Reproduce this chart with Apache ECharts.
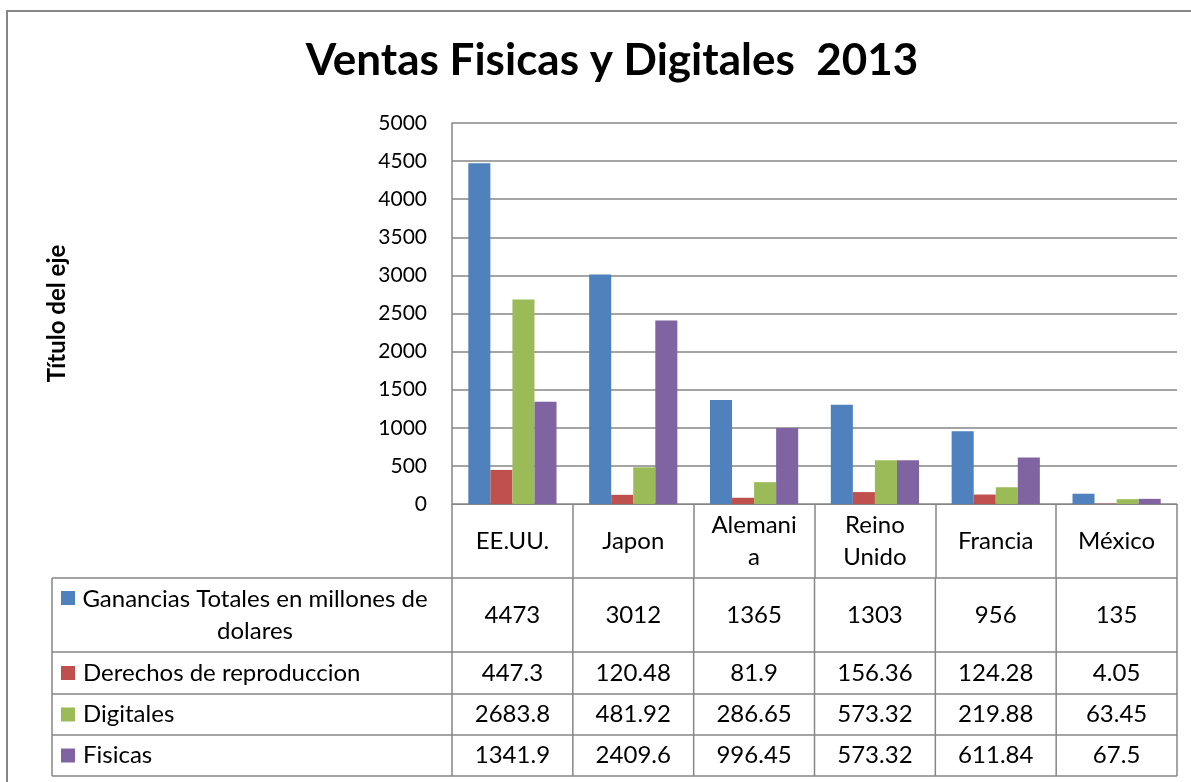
<!DOCTYPE html>
<html>
<head>
<meta charset="utf-8">
<title>Ventas Fisicas y Digitales 2013</title>
<script src="https://cdn.jsdelivr.net/npm/echarts@6/dist/echarts.min.js"></script>
<style>
  html, body { margin: 0; padding: 0; background: #fff; }
  #chart { width: 1191px; height: 782px; }
</style>
</head>
<body>
<div id="chart"></div>
<script>
// data
const categories = ['EE.UU.', 'Japon', 'Alemania', 'Reino Unido', 'Francia', 'México'];
const categoryLabels = ['EE.UU.', 'Japon', 'Alemani\na', 'Reino\nUnido', 'Francia', 'México'];
const seriesLabels = ['Ganancias Totales en millones de\ndolares', 'Derechos de reproduccion', 'Digitales', 'Fisicas'];
const ganancias = [4473, 3012, 1365, 1303, 956, 135];
const derechos = [447.3, 120.48, 81.9, 156.36, 124.28, 4.05];
const digitales = [2683.8, 481.92, 286.65, 573.32, 219.88, 63.45];
const fisicas = [1341.9, 2409.6, 996.45, 573.32, 611.84, 67.5];
const yTicks = [0, 500, 1000, 1500, 2000, 2500, 3000, 3500, 4000, 4500, 5000];

const colors = ['#4F81BD', '#C0504D', '#9BBB59', '#8064A2'];
const seriesData = [ganancias, derechos, digitales, fisicas];
const FONT = 'Lato';
const LINE = '#868686';
const TXT = 24;

const option = {
  animation: false,
  backgroundColor: '#fff',
  textStyle: { fontFamily: FONT, color: '#000' },
  title: {
    text: 'Ventas Fisicas y Digitales  2013',
    left: 607,
    top: 34,
    textAlign: 'center',
    textStyle: { fontFamily: FONT, fontSize: 44, fontWeight: 'bold', color: '#000' }
  },
  grid: { left: 452, right: 14, top: 123, bottom: 278 },
  xAxis: {
    type: 'category',
    data: categories,
    axisLine: { lineStyle: { color: LINE, width: 1 } },
    axisTick: { show: true, length: 74, lineStyle: { color: LINE, width: 1.5 } },
    axisLabel: {
      interval: 0,
      margin: 37,
      verticalAlign: 'middle',
      lineHeight: 32,
      fontSize: TXT,
      color: '#000',
      fontFamily: FONT,
      formatter: (v, i) => categoryLabels[i]
    }
  },
  yAxis: {
    type: 'value',
    min: yTicks[0],
    max: yTicks[yTicks.length - 1],
    interval: yTicks[1] - yTicks[0],
    name: 'Título del eje',
    nameLocation: 'middle',
    nameGap: 383,
    nameTextStyle: { fontFamily: FONT, fontSize: 24, fontWeight: 'bold', color: '#000' },
    axisLine: { show: true, lineStyle: { color: LINE, width: 1.5 } },
    axisTick: { show: false },
    axisLabel: { fontSize: 21, color: '#000', fontFamily: FONT, margin: 25, formatter: v => String(v) },
    splitLine: { lineStyle: { color: LINE, width: 1.5 } }
  },
  series: seriesData.map((d, i) => ({
    type: 'bar',
    name: seriesLabels[i].replace('\n', ' '),
    data: d,
    barGap: '0%',
    barCategoryGap: '27%',
    itemStyle: { color: colors[i] }
  }))
};

const chart = echarts.init(document.getElementById('chart'));
chart.setOption(option);

// data table under the plot, columns follow the category axis
const c0 = chart.convertToPixel({ xAxisIndex: 0 }, categories[0]);
const c1 = chart.convertToPixel({ xAxisIndex: 0 }, categories[1]);
const band = c1 - c0;
const plotLeft = c0 - band / 2;
const plotRight = plotLeft + band * categories.length;
const tableLeft = 52;
const rowEdges = [578, 652, 694, 735, 776];

const g = [];
g.push({
  type: 'rect', silent: true,
  shape: { x: 7, y: 11, width: 1200, height: 800 },
  style: { fill: 'none', stroke: LINE, lineWidth: 2 }
});
rowEdges.forEach(y => {
  g.push({
    type: 'line', silent: true,
    shape: { x1: tableLeft, y1: y, x2: plotRight, y2: y },
    style: { stroke: LINE, lineWidth: 1.5 }
  });
});
const vx = [tableLeft];
for (let k = 0; k <= categories.length; k++) vx.push(plotLeft + band * k);
vx.forEach(x => {
  g.push({
    type: 'line', silent: true,
    shape: { x1: x, y1: rowEdges[0], x2: x, y2: rowEdges[rowEdges.length - 1] },
    style: { stroke: LINE, lineWidth: 1.5 }
  });
});

seriesData.forEach((d, r) => {
  const top = rowEdges[r], bot = rowEdges[r + 1];
  const cy = (top + bot) / 2;
  const multi = seriesLabels[r].indexOf('\n') >= 0;
  const boxY = multi ? cy - 16 - 8 : cy - 7;
  g.push({
    type: 'rect', silent: true,
    shape: { x: 61, y: boxY, width: 14, height: 14 },
    style: { fill: colors[r] }
  });
  g.push({
    type: 'text', silent: true,
    x: multi ? 255 : 83,
    y: cy,
    style: {
      text: seriesLabels[r],
      align: multi ? 'center' : 'left',
      verticalAlign: 'middle',
      lineHeight: 32,
      fontSize: TXT,
      fontFamily: FONT,
      fill: '#000'
    }
  });
  d.forEach((v, i) => {
    g.push({
      type: 'text', silent: true,
      x: chart.convertToPixel({ xAxisIndex: 0 }, categories[i]),
      y: cy,
      style: {
        text: String(v),
        align: 'center',
        verticalAlign: 'middle',
        fontSize: TXT,
        fontFamily: FONT,
        fill: '#000'
      }
    });
  });
});

chart.setOption({ graphic: g });
</script>
</body>
</html>
